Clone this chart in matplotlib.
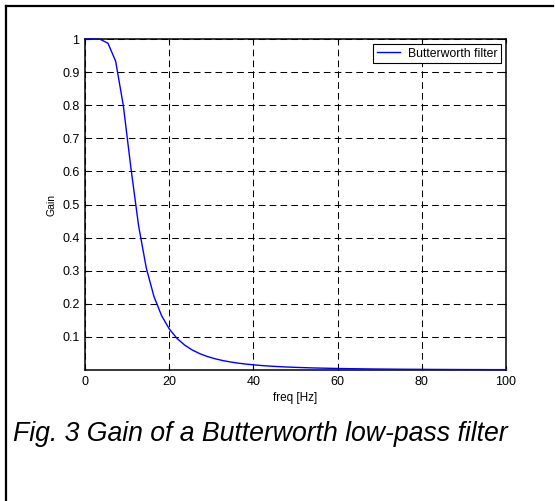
import matplotlib
matplotlib.use('Agg')
import matplotlib.pyplot as plt
from matplotlib.lines import Line2D

# frequency points [Hz] and filter gain
freq = [0.0, 1.82, 3.64, 5.46, 7.28, 9.1, 10.92, 12.74, 14.56, 16.38,
        18.2, 20.02, 21.84, 23.66, 25.48, 27.3, 29.12, 30.94, 32.76, 34.58,
        36.4, 38.22, 40.04, 41.86, 43.68, 45.5, 47.32, 49.14, 50.96, 52.78,
        54.6, 56.42, 58.24, 60.06, 61.88, 63.7, 65.52, 67.34, 69.16, 70.98,
        72.8, 74.62, 76.44, 78.26, 80.08, 81.9, 83.72, 85.54, 87.36, 89.18,
        91.0, 92.82, 94.64, 96.46, 98.28, 100.1]
gain = [1.0, 1.0, 0.999, 0.987, 0.933, 0.799, 0.609, 0.435, 0.308, 0.222,
        0.164, 0.124, 0.0956, 0.0754, 0.0604, 0.0491, 0.0405, 0.0338, 0.0284, 0.0242,
        0.0207, 0.0179, 0.0156, 0.0136, 0.0120, 0.0106, 0.0094, 0.0084, 0.0076, 0.0068,
        0.0061, 0.0056, 0.0051, 0.0046, 0.0042, 0.0039, 0.0036, 0.0033, 0.0030, 0.0028,
        0.0026, 0.0024, 0.0022, 0.0021, 0.0020, 0.0018, 0.0017, 0.0016, 0.0015, 0.0014,
        0.0013, 0.0013, 0.0012, 0.0011, 0.0011, 0.0010]
xticks = [0, 20, 40, 60, 80, 100]
yticks = [0.1, 0.2, 0.3, 0.4, 0.5, 0.6, 0.7, 0.8, 0.9, 1]
caption = 'Fig. 3 Gain of a Butterworth low-pass filter'

plt.rcParams['font.family'] = ['Liberation Sans', 'DejaVu Sans']
plt.rcParams['lines.scale_dashes'] = False

W, H = 555, 501
fig = plt.figure(figsize=(W/100, H/100), dpi=100)
ax = fig.add_axes([85/W, 1-370/H, 421/W, 331/H])

ax.plot(freq, gain, color='#0000ff', lw=1.0, label='Butterworth filter',
        zorder=3, clip_on=False)
ax.set_xlim(0, 100)
ax.set_ylim(0, 1)
ax.set_xticks(xticks)
ax.set_yticks(yticks)
ax.set_yticklabels(['0.1', '0.2', '0.3', '0.4', '0.5', '0.6', '0.7', '0.8', '0.9', '1'])
ax.tick_params(direction='in', length=3, width=0.8, top=True, right=True,
               labelsize=9, pad=4, colors='black')
ax.grid(True, color='black', lw=0.75, linestyle=(0, (4.8, 3.0)))
for s in ax.spines.values():
    s.set_linewidth(1.1)
ax.set_xlabel('freq [Hz]', fontsize=8.5, labelpad=3)
ax.set_ylabel('Gain', fontsize=7.5, labelpad=4)

leg = ax.legend(loc='upper right', fontsize=8.8, fancybox=False, framealpha=1,
                edgecolor='black', borderaxespad=0.4, handlelength=1.9,
                borderpad=0.3, handletextpad=0.65)
leg.get_frame().set_linewidth(0.8)
leg._legend_box.sep = 4

# outer frame (top and left edges)
fig.add_artist(Line2D([6/W, 6/W], [0, 1-6/H], color='black', lw=1.6))
fig.add_artist(Line2D([6/W, 553/W], [1-6/H, 1-6/H], color='black', lw=1.6))

fig.text(13/W, 1-441/H, caption, fontsize=19.2, style='italic', ha='left',
         va='baseline')

fig.savefig('out.png', dpi=100)
